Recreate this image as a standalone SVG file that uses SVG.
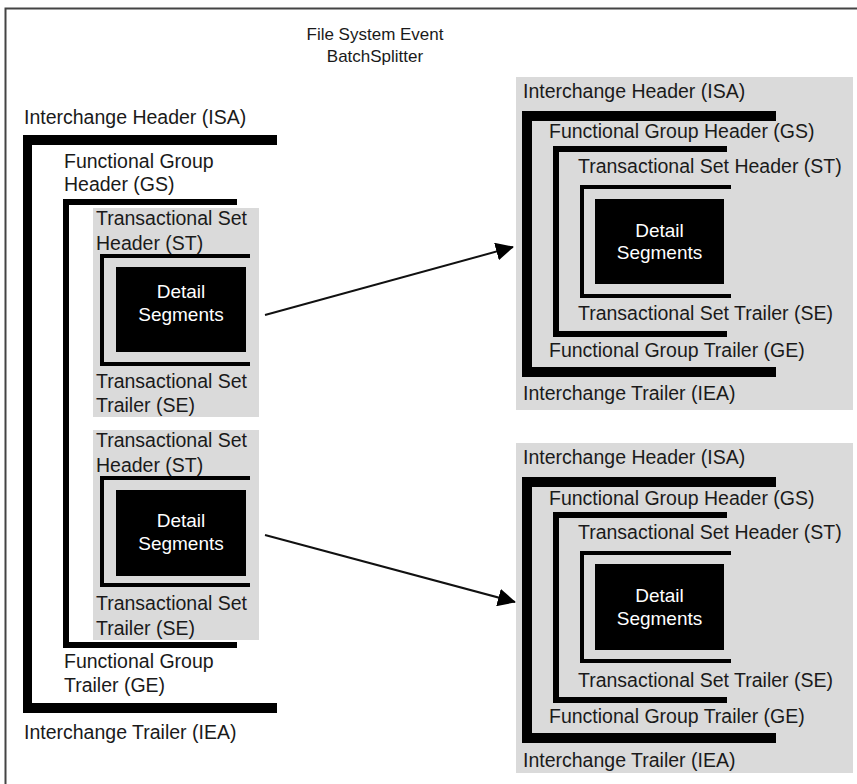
<svg xmlns="http://www.w3.org/2000/svg" width="857" height="784" viewBox="0 0 857 784">
<defs>
<style>
text{font-family:"Liberation Sans",Arial,sans-serif;font-size:19.5px;fill:#1a1a1a}
.t{font-size:17px}
.w{fill:#fff;text-anchor:middle;font-size:19px}
.bar{fill:#000}
.gray{fill:#dadada}
.conn{stroke:#111;stroke-width:2;fill:none}
</style>
<marker id="ah" viewBox="0 0 10 10" refX="9" refY="5" markerWidth="9" markerHeight="9" markerUnits="userSpaceOnUse" orient="auto">
<path d="M0,0 L10,5 L0,10 z" fill="#000"/>
</marker>
<marker id="ah2" viewBox="0 0 10 10" refX="9.5" refY="5" markerWidth="18" markerHeight="18" markerUnits="userSpaceOnUse" orient="auto">
<path d="M0,0 L10,5 L0,10 z" fill="#000"/>
</marker>
</defs>
<rect width="857" height="784" fill="#fff"/>
<path d="M5.5,784 V8.5 H857" fill="none" stroke="#444" stroke-width="2"/>

<g id="title">
<text class="t" x="375" y="40" text-anchor="middle">File System Event</text>
<text class="t" x="375" y="62" text-anchor="middle">BatchSplitter</text>
</g>

<g id="source-interchange">
<text x="24" y="124">Interchange Header (ISA)</text>
<rect class="bar" x="23" y="135" width="254" height="10"/>
<rect class="bar" x="23" y="135" width="9" height="578"/>
<rect class="bar" x="23" y="703" width="254" height="10"/>
<text x="24" y="739">Interchange Trailer (IEA)</text>
</g>

<g id="source-group">
<text x="64" y="168">Functional Group</text>
<text x="64" y="191">Header (GS)</text>
<rect class="bar" x="63" y="199" width="174" height="6"/>
<rect class="bar" x="63" y="199" width="6" height="449"/>
<rect class="bar" x="63" y="642" width="174" height="6"/>
<text x="64" y="668">Functional Group</text>
<text x="64" y="692">Trailer (GE)</text>
</g>

<g id="source-set-1">
<rect class="gray" x="93" y="208" width="166" height="209"/>
<text x="96" y="225">Transactional Set</text>
<text x="96" y="250">Header (ST)</text>
<rect class="bar" x="100" y="254" width="150" height="4"/>
<rect class="bar" x="100" y="254" width="4" height="112"/>
<rect class="bar" x="100" y="362" width="150" height="4"/>
<rect class="bar" x="116" y="267" width="130" height="85"/>
<text class="w" x="181" y="298">Detail</text>
<text class="w" x="181" y="321">Segments</text>
<text x="96" y="388">Transactional Set</text>
<text x="96" y="412">Trailer (SE)</text>
</g>

<g id="source-set-2">
<rect class="gray" x="93" y="430" width="166" height="210"/>
<text x="96" y="447">Transactional Set</text>
<text x="96" y="472">Header (ST)</text>
<rect class="bar" x="100" y="476" width="150" height="4"/>
<rect class="bar" x="100" y="476" width="4" height="111"/>
<rect class="bar" x="100" y="583" width="150" height="4"/>
<rect class="bar" x="116" y="490" width="130" height="86"/>
<text class="w" x="181" y="527">Detail</text>
<text class="w" x="181" y="550">Segments</text>
<text x="96" y="610">Transactional Set</text>
<text x="96" y="635">Trailer (SE)</text>
</g>

<g id="output-1">
<rect class="gray" x="516" y="77" width="337" height="333"/>
<text x="523" y="98">Interchange Header (ISA)</text>
<rect class="bar" x="522" y="111" width="254" height="10"/>
<rect class="bar" x="522" y="111" width="10" height="266"/>
<rect class="bar" x="522" y="367" width="254" height="10"/>
<text x="549" y="138">Functional Group Header (GS)</text>
<rect class="bar" x="553" y="146" width="174" height="6"/>
<rect class="bar" x="553" y="146" width="6" height="191"/>
<rect class="bar" x="553" y="331" width="174" height="6"/>
<text x="578" y="173">Transactional Set Header (ST)</text>
<rect class="bar" x="580" y="185" width="151" height="4"/>
<rect class="bar" x="580" y="185" width="4" height="113"/>
<rect class="bar" x="580" y="294" width="151" height="4"/>
<rect class="bar" x="595" y="199" width="129" height="85"/>
<text class="w" x="659.5" y="237">Detail</text>
<text class="w" x="659.5" y="259">Segments</text>
<text x="578" y="320">Transactional Set Trailer (SE)</text>
<text x="549" y="357">Functional Group Trailer (GE)</text>
<text x="523" y="400">Interchange Trailer (IEA)</text>
</g>

<g id="output-2">
<rect class="gray" x="516" y="443" width="337" height="330"/>
<text x="523" y="464">Interchange Header (ISA)</text>
<rect class="bar" x="522" y="477" width="254" height="10"/>
<rect class="bar" x="522" y="477" width="10" height="266"/>
<rect class="bar" x="522" y="733" width="254" height="10"/>
<text x="549" y="505">Functional Group Header (GS)</text>
<rect class="bar" x="553" y="512" width="174" height="6"/>
<rect class="bar" x="553" y="512" width="6" height="191"/>
<rect class="bar" x="553" y="697" width="174" height="6"/>
<text x="578" y="539">Transactional Set Header (ST)</text>
<rect class="bar" x="580" y="551" width="151" height="4"/>
<rect class="bar" x="580" y="551" width="4" height="112"/>
<rect class="bar" x="580" y="659" width="151" height="4"/>
<rect class="bar" x="595" y="564" width="129" height="86"/>
<text class="w" x="659.5" y="602">Detail</text>
<text class="w" x="659.5" y="625">Segments</text>
<text x="578" y="687">Transactional Set Trailer (SE)</text>
<text x="549" y="723">Functional Group Trailer (GE)</text>
<text x="523" y="767">Interchange Trailer (IEA)</text>
</g>

<g id="connectors">
<line class="conn" x1="265" y1="315" x2="513" y2="247" marker-end="url(#ah2)"/>
<line class="conn" x1="265" y1="535" x2="515" y2="602" marker-end="url(#ah2)"/>
</g>
</svg>
